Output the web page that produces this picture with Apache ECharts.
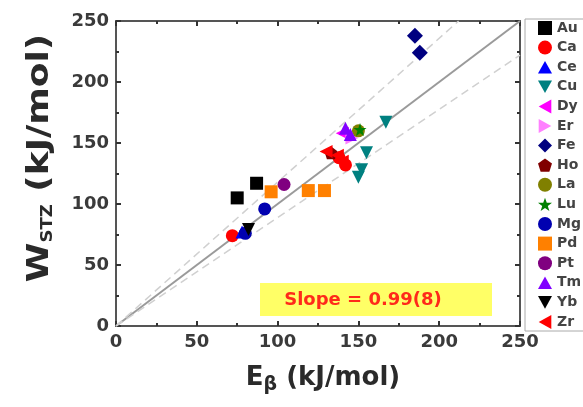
<!DOCTYPE html>
<html><head><meta charset="utf-8">
<script src="https://cdn.jsdelivr.net/npm/echarts@6/dist/echarts.min.js"></script>
<style>html,body{margin:0;padding:0;background:#fff;}#c{width:583px;height:407px;}</style>
</head><body><div id="c"></div>
<script>
const elements = ['Au','Ca','Ce','Cu','Dy','Er','Fe','Ho','La','Lu','Mg','Pd','Pt','Tm','Yb','Zr'];
const Au = [[75,105],[87,117]];
const Ca = [[72,74],[138,138],[142,132]];
const Ce = [[78,77]];
const Cu = [[155,142],[152,128],[150,122],[167,167]];
const Dy = [[140,158]];
const Er = [[146,154]];
const Fe = [[185,238],[188,224]];
const Ho = [[133,142]];
const La = [[150,160]];
const Lu = [[151,161]];
const Mg = [[92,96],[80,76]];
const Pd = [[96,110],[119,111],[129,111]];
const Pt = [[104,116]];
const Tm = [[142,162],[145,157]];
const Yb = [[82,79]];
const Zr = [[130,143],[137,140],[140,135]];
const fitLine = [[0,0],[250,250]];
const upperBound = [[0,0],[212,250]];
const lowerBound = [[0,0],[250,222]];
const slopeText = 'Slope = 0.99(8)';
const xName = ['E','β',' (kJ/mol)'];
const yName = ['W','STZ',' (kJ/mol)'];

const pentagon = 'path://M0,-10 L9.5,-3.1 L5.9,8.1 L-5.9,8.1 L-9.5,-3.1 Z';
const star = 'path://M0,-10 L2.4,-3.3 L9.5,-3.1 L3.8,1.2 L5.9,8.1 L0,4 L-5.9,8.1 L-3.8,1.2 L-9.5,-3.1 L-2.4,-3.3 Z';
const triUp = 'path://M0,-10 L10,8 L-10,8 Z';
const triDown = 'path://M0,10 L10,-8 L-10,-8 Z';
const triLeft = 'path://M-10,0 L8,-10 L8,10 Z';
const triRight = 'path://M10,0 L-8,-10 L-8,10 Z';
const styles = {
  Au:{c:'#000000',s:'rect'},
  Ca:{c:'#ff0000',s:'circle'},
  Ce:{c:'#0000ff',s:triUp},
  Cu:{c:'#008080',s:triDown},
  Dy:{c:'#ff00ff',s:triLeft},
  Er:{c:'#ff80ff',s:triRight},
  Fe:{c:'#000080',s:'diamond'},
  Ho:{c:'#800000',s:pentagon},
  La:{c:'#808000',s:'circle'},
  Lu:{c:'#008000',s:star},
  Mg:{c:'#0000b0',s:'circle'},
  Pd:{c:'#ff8000',s:'rect'},
  Pt:{c:'#800080',s:'circle'},
  Tm:{c:'#8000ff',s:triUp},
  Yb:{c:'#000000',s:triDown},
  Zr:{c:'#ff0000',s:triLeft}
};
const dataMap = {Au,Ca,Ce,Cu,Dy,Er,Fe,Ho,La,Lu,Mg,Pd,Pt,Tm,Yb,Zr};

const series = [
  {type:'line',data:fitLine,showSymbol:false,silent:true,lineStyle:{color:'#9a9a9a',width:2},z:1},
  {type:'line',data:upperBound,showSymbol:false,silent:true,lineStyle:{color:'#d0d0d0',width:1.5,type:[8,5]},z:1},
  {type:'line',data:lowerBound,showSymbol:false,silent:true,lineStyle:{color:'#d0d0d0',width:1.5,type:[8,5]},z:1}
];
elements.forEach(e=>{
  const st = styles[e];
  series.push({name:e,type:'scatter',data:dataMap[e],symbol:st.s,
    symbolSize: st.s==='diamond'?16:13, itemStyle:{color:st.c,opacity:1},z:3});
});

const axisCommon = {
  min:0,max:250,interval:50,
  axisLine:{show:true,onZero:false,lineStyle:{color:'#555',width:2}},
  axisTick:{show:true,inside:true,length:5,lineStyle:{color:'#333',width:2}},
  minorTick:{show:true,splitNumber:2,length:3,lineStyle:{color:'#333',width:2}},
  splitLine:{show:false}
};
const FF = '"DejaVu Sans"';
const lblStyle = {fontSize:18,fontWeight:'bold',color:'#3a3a3a',fontFamily:'DejaVu Sans'};
const nameRich = (big, small, sub) => ({
  b:{fontSize:big,fontWeight:'bold',fill:'#2a2a2a',fontFamily:'DejaVu Sans'},
  s:{fontSize:small,fontWeight:'bold',fill:'#2a2a2a',fontFamily:'DejaVu Sans',padding:[sub,0,0,0]}
});
const chart = echarts.init(document.getElementById('c'),null,{renderer:'canvas'});
chart.setOption({
  animation:false,
  backgroundColor:'#fff',
  grid:{left:116,right:63,top:21,bottom:81},
  legend:{
    data:elements, orient:'vertical', left:525, top:19,
    itemWidth:14,itemHeight:14,itemGap:5.6,
    padding:[2,40,2,13],
    borderColor:'#aaa',borderWidth:1,
    textStyle:{fontSize:14,fontWeight:'bold',color:'#444',fontFamily:'DejaVu Sans'}
  },
  xAxis:[
    Object.assign({},axisCommon,{type:'value',position:'bottom',
      axisLabel:Object.assign({margin:7},lblStyle)}),
    Object.assign({},axisCommon,{type:'value',position:'top',axisLabel:{show:false}})
  ],
  yAxis:[
    Object.assign({},axisCommon,{type:'value',position:'left',
      axisLabel:Object.assign({margin:7},lblStyle)}),
    Object.assign({},axisCommon,{type:'value',position:'right',axisLabel:{show:false}})
  ],
  series:series,
  graphic:[
    {type:'rect',shape:{x:260,y:283,width:232,height:33},style:{fill:'#ffff66'},z:0},
    {type:'text',x:363,y:300,style:{text:slopeText,fill:'#ff2a1a',font:'bold 18px '+FF,align:'center',verticalAlign:'middle'},z:5},
    {type:'text',x:323,y:378,scaleX:1.0,
      style:{text:'{b|'+xName[0]+'}{s|'+xName[1]+'}{b|'+xName[2]+'}',rich:nameRich(26,19,14),align:'center',verticalAlign:'middle'},z:5},
    {type:'text',x:40,y:158,rotation:Math.PI/2,scaleX:1.2,
      style:{text:'{b|'+yName[0]+'}{s|'+yName[1]+'}{b|'+yName[2]+'}',rich:nameRich(30,15,16),align:'center',verticalAlign:'middle'},z:5}
  ]
});
</script></body></html>
